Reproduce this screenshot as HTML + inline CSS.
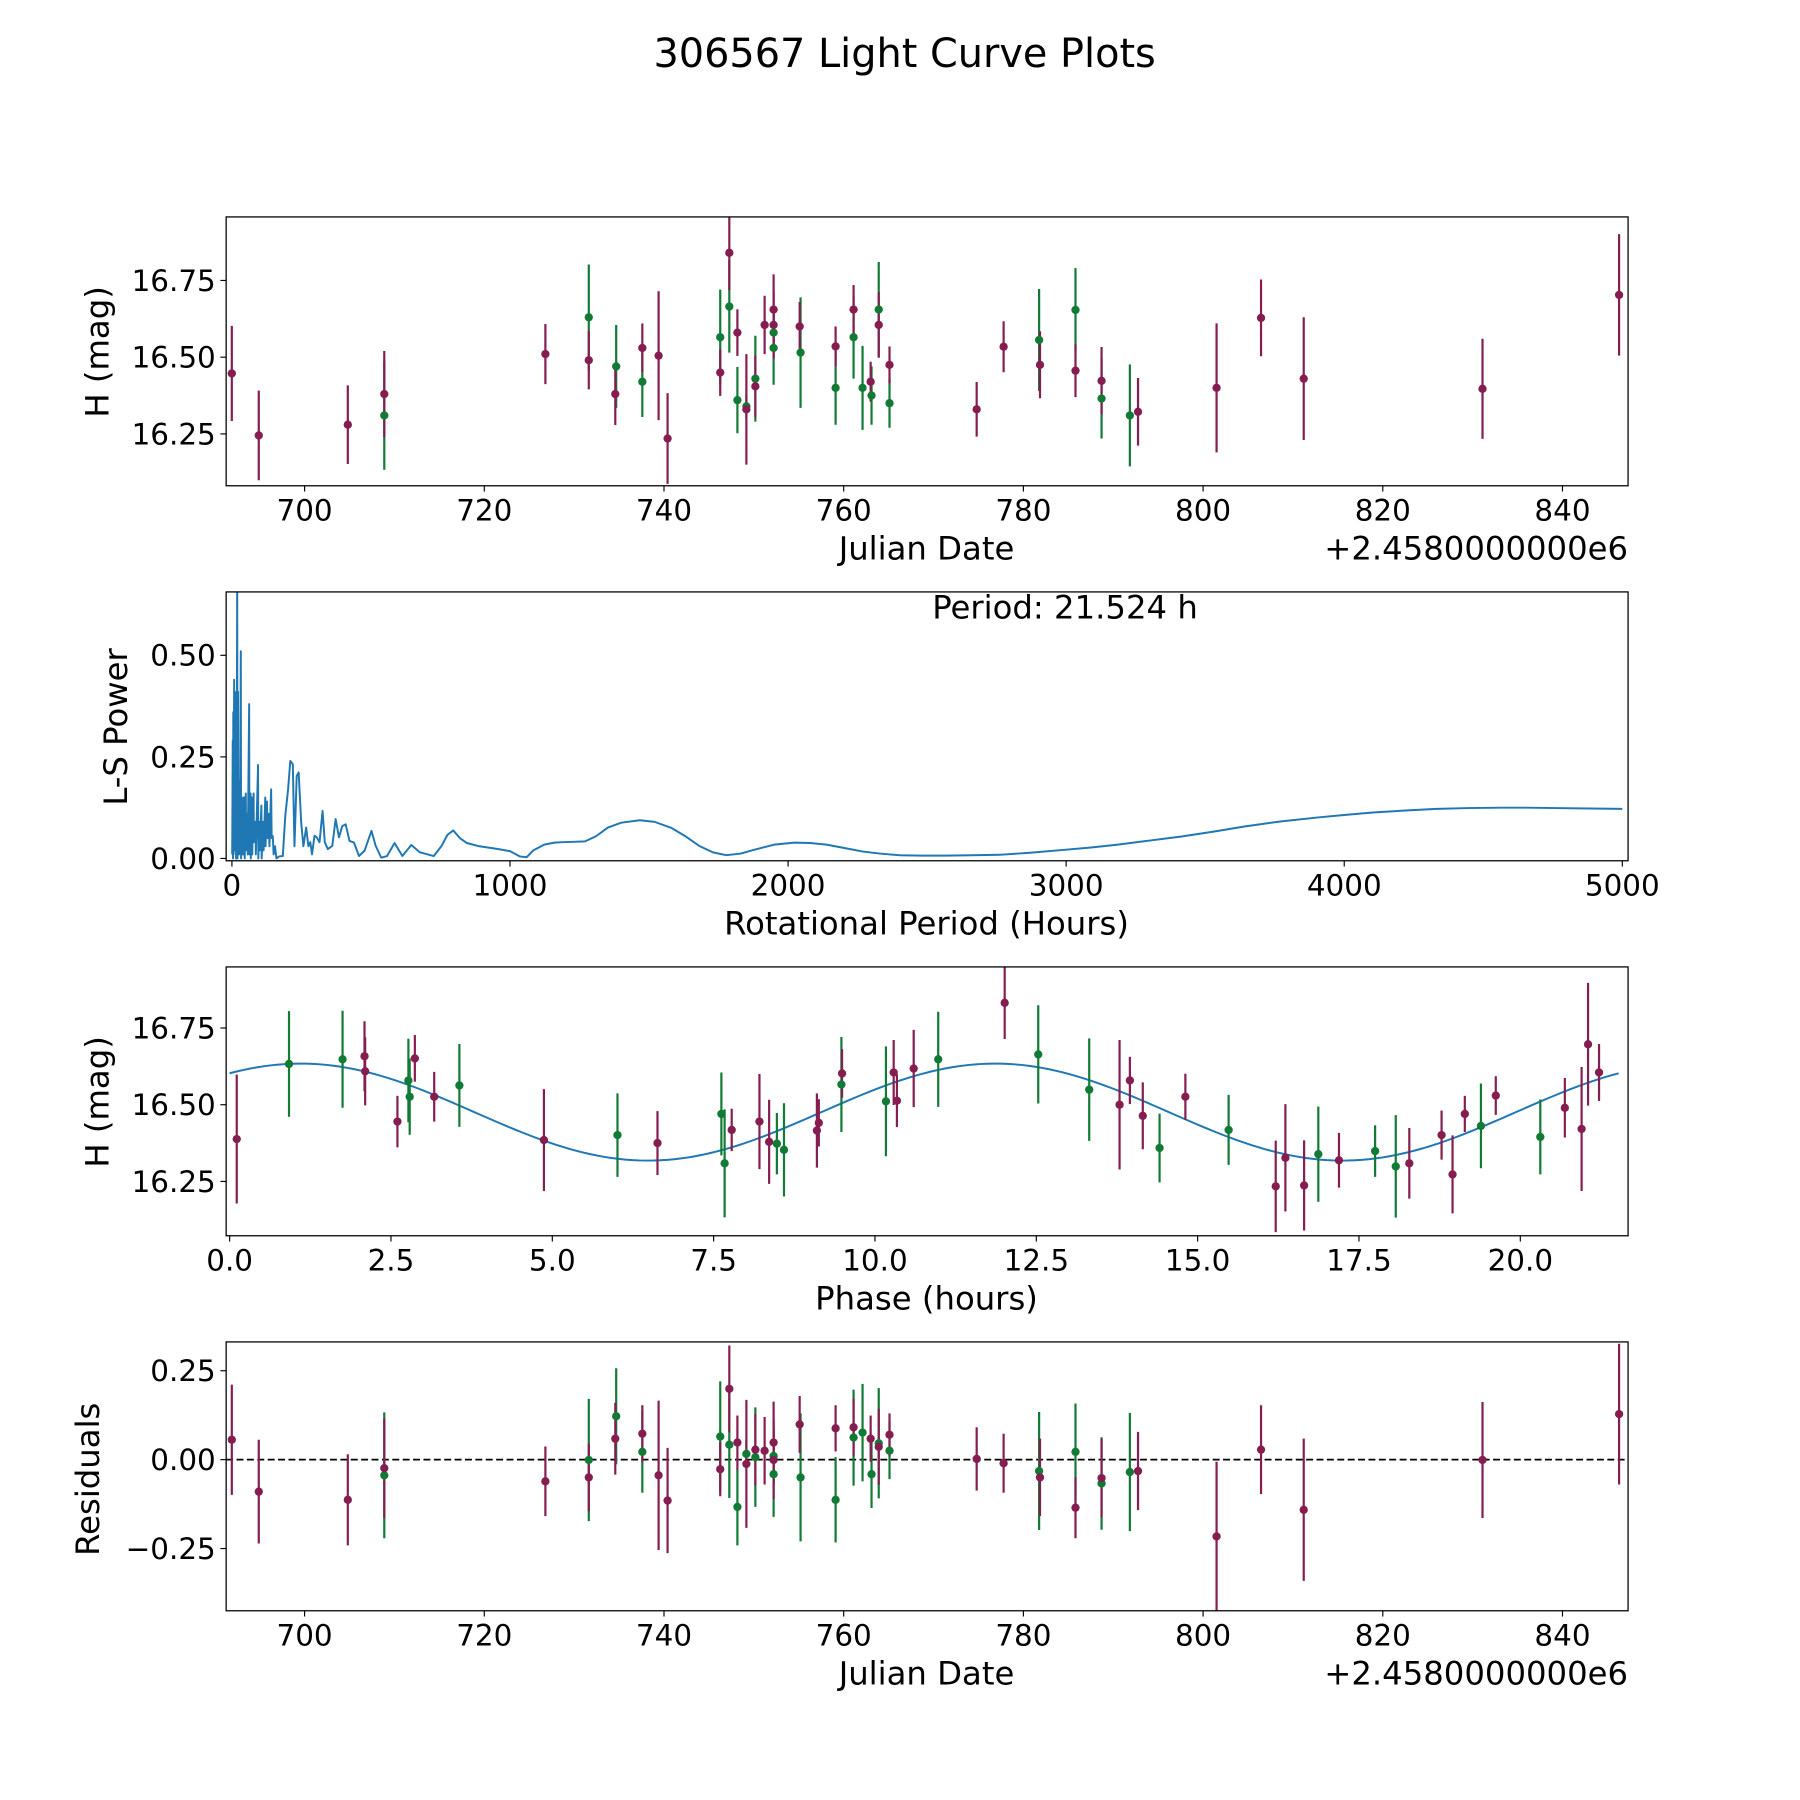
<!DOCTYPE html>
<html><head><meta charset="utf-8"><title>306567 Light Curve Plots</title>
<style>html,body{margin:0;padding:0;background:#fff}svg{display:block}text{font-family:"DejaVu Sans","Liberation Sans",sans-serif;fill:#000}</style>
</head><body>
<svg id="fig" xmlns="http://www.w3.org/2000/svg" width="1800" height="1800" viewBox="0 0 1560 1560">
<rect x="0" y="0" width="1560" height="1560" fill="#fff"/>
<text x="784" y="58" font-size="34.5" text-anchor="middle">306567 Light Curve Plots</text>
</svg>
<script>
// ---- Light curve data (Julian date offset from 2458000) ----
const dates=[691.9,694.9,704.81,708.87,708.87,726.8,731.63,731.63,734.68,734.58,737.59,737.59,739.4,740.4,746.26,746.26,747.27,747.27,748.17,748.17,749.17,749.17,750.17,750.17,751.2,752.2,752.2,752.2,752.2,755.1,755.2,759.1,759.1,761.1,761.1,762.1,763.0,763.1,763.9,763.9,765.1,765.1,774.8,777.8,781.75,781.85,785.8,785.8,788.7,788.7,791.85,792.76,801.5,806.45,811.2,831.1,846.3];
const mags=[16.447,16.245,16.28,16.38,16.31,16.51,16.63,16.49,16.47,16.38,16.53,16.42,16.505,16.235,16.565,16.45,16.84,16.665,16.58,16.36,16.34,16.33,16.43,16.405,16.605,16.655,16.605,16.58,16.53,16.60,16.515,16.535,16.40,16.655,16.565,16.40,16.42,16.375,16.605,16.655,16.475,16.35,16.33,16.534,16.556,16.475,16.654,16.456,16.423,16.365,16.31,16.322,16.40,16.628,16.43,16.397,16.703];
const magErr=[0.155,0.146,0.128,0.14,0.177,0.098,0.172,0.095,0.135,0.101,0.08,0.115,0.21,0.148,0.155,0.076,0.122,0.150,0.076,0.108,0.04,0.18,0.14,0.1,0.095,0.115,0.11,0.08,0.12,0.08,0.18,0.065,0.12,0.08,0.135,0.137,0.065,0.095,0.107,0.155,0.06,0.08,0.089,0.083,0.166,0.109,0.136,0.086,0.11,0.13,0.166,0.11,0.21,0.125,0.2,0.163,0.198];
const resid=[0.056,-0.090,-0.113,-0.024,-0.044,-0.061,-0.001,-0.05,0.122,0.059,0.073,0.022,-0.044,-0.115,0.065,-0.027,0.199,0.042,0.048,-0.133,0.016,-0.012,0.007,0.028,0.025,0.048,-0.001,0.010,-0.041,0.099,-0.050,0.088,-0.113,0.091,0.062,0.076,0.059,-0.041,0.036,0.046,0.07,0.025,0.002,-0.01,-0.032,-0.05,0.022,-0.135,-0.052,-0.067,-0.035,-0.032,-0.216,0.028,-0.141,-0.001,0.128];
const filters=['p','p','p','p','g','p','g','p','g','p','p','g','p','p','g','p','p','g','p','g','g','p','g','p','p','p','p','g','g','p','g','p','g','p','g','g','p','g','p','g','p','g','p','p','g','p','g','p','p','g','g','p','p','p','p','p','p'];
// ---- Phased data ----
const phases=[0.11,0.92,1.75,2.09,2.10,2.60,2.77,2.79,2.87,3.17,3.56,4.87,6.01,6.63,7.62,7.67,7.78,8.21,8.36,8.48,8.59,9.10,9.13,9.48,9.49,10.17,10.29,10.34,10.60,10.98,12.01,12.53,13.32,13.79,13.95,14.15,14.41,14.81,15.48,16.21,16.36,16.65,16.87,17.19,17.75,18.07,18.28,18.78,18.95,19.14,19.39,19.62,20.31,20.69,20.95,21.05,21.22];
const phaseMags=[16.388,16.633,16.648,16.658,16.609,16.445,16.579,16.526,16.651,16.526,16.563,16.385,16.401,16.375,16.470,16.309,16.418,16.445,16.379,16.373,16.353,16.416,16.441,16.566,16.602,16.511,16.605,16.513,16.618,16.648,16.832,16.664,16.549,16.50,16.579,16.464,16.359,16.526,16.418,16.234,16.327,16.237,16.339,16.319,16.349,16.299,16.309,16.401,16.273,16.470,16.431,16.530,16.395,16.490,16.421,16.697,16.605];
const phaseErr=[0.21,0.172,0.158,0.114,0.111,0.084,0.136,0.124,0.076,0.081,0.135,0.166,0.136,0.104,0.135,0.176,0.069,0.155,0.137,0.10,0.152,0.121,0.077,0.155,0.079,0.179,0.106,0.086,0.126,0.155,0.118,0.160,0.167,0.211,0.077,0.109,0.112,0.075,0.114,0.149,0.175,0.147,0.155,0.089,0.084,0.167,0.115,0.080,0.127,0.059,0.138,0.063,0.122,0.097,0.202,0.200,0.093];
const phaseFilters=['p','g','g','p','p','p','g','g','p','p','g','p','g','p','g','g','p','p','p','g','g','p','p','g','p','g','p','p','p','g','p','g','g','p','p','p','g','p','g','p','p','p','g','p','g','g','p','p','p','p','g','p','g','p','p','p','p'];
const modelMean=16.476, modelAmp=0.158, modelPeak=1.1, modelHalfPeriod=10.762, period=21.524;
// ---- Lomb-Scargle periodogram ----
const lsPeriod=[1,3,4,5,6,8,9,11,12,14,15,16,17,19,20,22,23,25,26,28,29,32,33,35,36,40,41,45,46,50,51,56,57,62,63,67,68,72,73,78,79,85,86,94,95,99,100,106,107,112,114,120,121,126,128,132,135,141,143,147,150,155,160,170,183,192,202,210,219,225,233,240,249,257,267,275,282,288,297,305,315,326,334,345,361,373,385,397,409,423,439,457,477,502,517,537,558,585,613,645,676,726,754,775,796,820,845,890,959,1000,1035,1060,1084,1123,1160,1188,1230,1270,1310,1352,1400,1467,1520,1581,1630,1680,1730,1778,1830,1876,1950,2023,2080,2138,2200,2269,2330,2400,2480,2563,2660,2760,2870,2989,3090,3186,3300,3415,3530,3644,3770,3906,4000,4102,4220,4332,4450,4561,4660,4757,4880,5000];
const lsPower=[0.01,0.29,0.0,0.36,0.01,0.44,0.04,0.41,0.02,0.34,0.0,0.29,0.01,0.70,0.0,0.41,0.02,0.19,0.01,0.16,0.04,0.51,0.0,0.12,0.01,0.15,0.01,0.15,0.0,0.16,0.02,0.11,0.01,0.38,0.01,0.16,0.0,0.15,0.01,0.16,0.04,0.09,0.01,0.23,0.0,0.09,0.02,0.13,0.0,0.09,0.02,0.15,0.03,0.14,0.05,0.11,0.03,0.17,0.05,0.055,0.01,0.03,0.0,0.005,0.006,0.105,0.17,0.24,0.232,0.03,0.203,0.212,0.09,0.03,0.076,0.03,0.04,0.01,0.056,0.052,0.04,0.117,0.04,0.023,0.031,0.097,0.052,0.08,0.084,0.043,0.039,0.006,0.019,0.068,0.031,0.002,0.006,0.038,0.006,0.033,0.015,0.006,0.031,0.058,0.069,0.05,0.038,0.03,0.023,0.018,0.005,0.003,0.02,0.034,0.039,0.040,0.041,0.042,0.055,0.076,0.088,0.094,0.090,0.075,0.055,0.031,0.015,0.008,0.012,0.021,0.034,0.039,0.038,0.034,0.026,0.017,0.012,0.008,0.007,0.007,0.008,0.009,0.014,0.021,0.027,0.034,0.044,0.054,0.066,0.079,0.091,0.101,0.107,0.113,0.118,0.122,0.124,0.125,0.125,0.124,0.123,0.122];
const xTicksJD=[700,720,740,760,780,800,820,840];
const yTicksMag=[16.25,16.50,16.75];
const xTicksLS=[0,1000,2000,3000,4000,5000];
const yTicksLS=[0,0.25,0.5];
const xTicksPh=[0,2.5,5,7.5,10,12.5,15,17.5,20];
const yTicksRes=[-0.25,0,0.25];

const NS='http://www.w3.org/2000/svg';
const svg=document.getElementById('fig');
const COL={p:'#861d50',g:'#117a35'};
const TICK_FS=25.5, LABEL_FS=28;
function el(tag,attrs,parent){const e=document.createElementNS(NS,tag);for(const k in attrs)e.setAttribute(k,attrs[k]);(parent||svg).appendChild(e);return e;}
function fmt(v,d){const s=Math.abs(v).toFixed(d);return (v<0?'\u2212':'')+s;}
function makeAxes(name,L,R,T,B,xmin,xmax,ymin,ymax){
  const sx=v=>L+(v-xmin)/(xmax-xmin)*(R-L);
  const sy=v=>B-(v-ymin)/(ymax-ymin)*(B-T);
  const g=el('g',{});
  
  
  const cid='clip-'+name;
  const cp=el('clipPath',{id:cid},g);el('rect',{x:L,y:T,width:R-L,height:B-T},cp);
  const plot=el('g',{'clip-path':'url(#'+cid+')'},g);
  
  
  return {L,R,T,B,sx,sy,g,plot};
}
function frame(ax){const r=el('rect',{x:ax.L,y:ax.T,width:ax.R-ax.L,height:ax.B-ax.T,fill:'none',stroke:'#000','stroke-width':1.1},ax.g);
  
  }
function xticks(ax,ticks,dec,name){ticks.forEach(t=>{const x=ax.sx(t);el('line',{x1:x,x2:x,y1:ax.B,y2:ax.B+5,stroke:'#000','stroke-width':1},ax.g);
  const tx=el('text',{x:x,y:ax.B+30,'font-size':TICK_FS,'text-anchor':'middle'},ax.g);tx.textContent=fmt(t,dec);
  
  });}
function yticks(ax,ticks,dec,name){ticks.forEach(t=>{const y=ax.sy(t);el('line',{x1:ax.L-5,x2:ax.L,y1:y,y2:y,stroke:'#000','stroke-width':1},ax.g);
  const tx=el('text',{x:ax.L-9,y:y+9,'font-size':TICK_FS,'text-anchor':'end'},ax.g);tx.textContent=fmt(t,dec);
  
  });}
function label(ax,txt,x,y,rot,name,anchor){const t=el('text',{x:x,y:y,'font-size':LABEL_FS,'text-anchor':anchor||'middle'},ax.g);
  if(rot)t.setAttribute('transform','rotate(-90 '+x+' '+y+')');t.textContent=txt;
  
  }
function errPoints(ax,xs,ys,es,fs,name){
  ['g','p'].forEach(f=>{xs.forEach((x,i)=>{if(fs[i]!==f)return;const l=el('line',{x1:ax.sx(x),x2:ax.sx(x),y1:ax.sy(ys[i]-es[i]),y2:ax.sy(ys[i]+es[i]),stroke:COL[f],'stroke-width':1.9},ax.plot);
    
    });});
  ['g','p'].forEach(f=>{xs.forEach((x,i)=>{if(fs[i]!==f)return;const c=el('circle',{cx:ax.sx(x),cy:ax.sy(ys[i]),r:3.6,fill:COL[f]},ax.plot);
    
    });});
}
// Panel 1
const a1=makeAxes('light-curve-axes',196,1411,188,421,691.27,847.3,16.081,16.957);
errPoints(a1,dates,mags,magErr,filters,'light-curve');
frame(a1);xticks(a1,xTicksJD,0,'x');yticks(a1,yTicksMag,2,'y');
label(a1,'Julian Date',803,485,false,'x-axis-title');
label(a1,'+2.4580000000e6',1411,485,false,'x-offset-text','end');
label(a1,'H (mag)',94,305,true,'y-axis-title');
// Panel 2
const a2=makeAxes('periodogram-axes',196,1411,513,746,-20.7,5020.7,-0.0057,0.656);
let d='';lsPeriod.forEach((p,i)=>{d+=(i?'L':'M')+a2.sx(p).toFixed(2)+' '+a2.sy(lsPower[i]).toFixed(2);});
const ln=el('path',{d:d,fill:'none',stroke:'#1f77b4','stroke-width':1.7,'stroke-linejoin':'round'},a2.plot);


frame(a2);xticks(a2,xTicksLS,0,'x');yticks(a2,yTicksLS,2,'y');
label(a2,'Period: 21.524 h',923,536,false,'period-annotation');
label(a2,'Rotational Period (Hours)',803,810,false,'x-axis-title');
label(a2,'L-S Power',110,630,true,'y-axis-title');
// Panel 3
const a3=makeAxes('phased-axes',196,1411,838,1071,-0.054,21.67,16.073,16.949);
let dm='';for(let k=0;k<=200;k++){const ph=k/200*period;const m=modelMean+modelAmp*Math.cos(2*Math.PI*(ph-modelPeak)/modelHalfPeriod);dm+=(k?'L':'M')+a3.sx(ph).toFixed(2)+' '+a3.sy(m).toFixed(2);}
const mc=el('path',{d:dm,fill:'none',stroke:'#1f77b4','stroke-width':1.7},a3.plot);


errPoints(a3,phases,phaseMags,phaseErr,phaseFilters,'phased');
frame(a3);xticks(a3,xTicksPh,1,'x');yticks(a3,yTicksMag,2,'y');
label(a3,'Phase (hours)',803,1135,false,'x-axis-title');
label(a3,'H (mag)',94,955,true,'y-axis-title');
// Panel 4
const a4=makeAxes('residuals-axes',196,1411,1163,1396,691.27,847.3,-0.425,0.331);
const zl=el('line',{x1:a4.L,x2:a4.R,y1:a4.sy(0),y2:a4.sy(0),stroke:'#000','stroke-width':1.5,'stroke-dasharray':'6,3'},a4.plot);


errPoints(a4,dates,resid,magErr,filters,'residual');
frame(a4);xticks(a4,xTicksJD,0,'x');yticks(a4,yTicksRes,2,'y');
label(a4,'Julian Date',803,1460,false,'x-axis-title');
label(a4,'+2.4580000000e6',1411,1460,false,'x-offset-text','end');
label(a4,'Residuals',86,1282,true,'y-axis-title');
</script>
</body></html>
